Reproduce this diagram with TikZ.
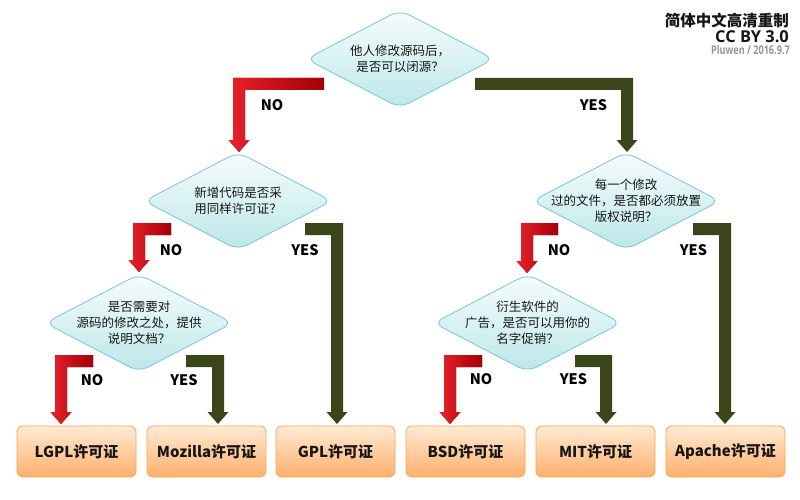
\documentclass[tikz,border=0pt]{standalone}
\usepackage{fontspec}
\usepackage{graphicx}
\setmainfont{Noto Sans CJK SC}
\newfontfamily\osans{Open Sans}
\usetikzlibrary{shapes.geometric}
\definecolor{redL}{RGB}{232,33,42}
\definecolor{redD}{RGB}{163,0,8}
\definecolor{yesgreen}{RGB}{59,69,26}
\definecolor{diaTop}{RGB}{247,252,252}
\definecolor{diaBot}{RGB}{188,231,233}
\definecolor{diaLine}{RGB}{120,196,222}
\definecolor{boxTop}{RGB}{255,234,212}
\definecolor{boxBot}{RGB}{255,176,108}
\definecolor{boxLine}{RGB}{248,166,84}
\definecolor{txt}{RGB}{22,22,22}
% bent arrow, horizontal part to the right of the shaft: style, x start, x shaft-left, y bar-top, y tip
\newcommand\bentarrowR[5]{%
  \fill[#1] (#2,#4) -- (#3,#4) -- (#3,#5-12) -- (#3-4.5,#5-12) -- (#3+6,#5)
    -- (#3+16.5,#5-12) -- (#3+12,#5-12) -- (#3+12,#4+12) -- (#2,#4+12) -- cycle;}
% bent arrow, horizontal part to the left of the shaft
\newcommand\bentarrowL[5]{%
  \fill[#1] (#2,#4) -- (#3+12,#4) -- (#3+12,#5-12) -- (#3+16.5,#5-12) -- (#3+6,#5)
    -- (#3-4.5,#5-12) -- (#3,#5-12) -- (#3,#4+12) -- (#2,#4+12) -- cycle;}
\begin{document}
\begin{tikzpicture}[x=1pt,y=-1pt,
  dia/.style={diamond, draw=diaLine, line width=0.8pt, rounded corners=10pt,
    minimum width=188pt, minimum height=98pt, inner sep=0pt,
    top color=diaTop, bottom color=diaBot},
  dtext/.style={align=center, font=\fontsize{12.5}{16}\selectfont, text=txt, inner sep=0pt},
  lic/.style={rectangle, draw=boxLine, line width=0.8pt, rounded corners=6pt,
    minimum width=119pt, minimum height=51pt, top color=boxTop, bottom color=boxBot,
    font=\bfseries\fontsize{15}{18}\selectfont, text=txt},
  yn/.style={font=\bfseries\fontsize{14.5}{16}\selectfont, text=black, inner sep=0pt},
  nofill/.style={left color=redL, right color=redD},
  yesfill/.style={fill=yesgreen}]
\useasboundingbox (0,0) rectangle (800,500);
\fill[white] (0,0) rectangle (800,500);

% title block
\node[anchor=east, inner sep=0pt, text=txt, font=\bfseries\fontsize{15.5}{16}\selectfont] (title) at (789,20.5) {简体中文高清重制};
\node[anchor=east, inner sep=0pt, text=txt, font=\osans\bfseries\fontsize{16.4}{17}\selectfont] (cc) at (789,36.5) {CC BY 3.0};
\node[anchor=east, inner sep=0pt, text={rgb,255:red,150;green,150;blue,150}] (author) at (790,50) {\scalebox{0.76}[1]{\osans\bfseries\fontsize{12}{13}\selectfont Pluwen / 2016.9.7}};

% decision diamonds
\node[dia] (q1) at (400,59) {};
\node[dtext] (q1t) at (q1.center) {他人修改源码后，\\是否可以闭源？};
\node[dia] (q2) at (238,201) {};
\node[dtext] (q2t) at (q2.center) {新增代码是否采\\用同样许可证？};
\node[dia] (q3) at (626,201) {};
\node[dtext] (q3t) at (q3.center) {每一个修改\\过的文件，是否都必须放置\\版权说明？};
\node[dia] (q4) at (139,323) {};
\node[dtext] (q4t) at (q4.center) {是否需要对\\源码的修改之处，提供\\说明文档？};
\node[dia] (q5) at (527.5,323) {};
\node[dtext] (q5t) at (q5.center) {衍生软件的\\广告，是否可以用你的\\名字促销？};

% licences
\node[lic] (lgpl) at (76.5,451.5) {LGPL许可证};
\node[lic] (mpl) at (206.5,451.5) {Mozilla许可证};
\node[lic] (gpl) at (335.5,451.5) {GPL许可证};
\node[lic] (bsd) at (465.5,451.5) {BSD许可证};
\node[lic] (mit) at (595.5,451.5) {MIT许可证};
\node[lic] (apache) at (725.5,451.5) {Apache许可证};

% connectors (bent block arrows)
\bentarrowR{nofill}{324}{233}{78}{152}   % q1 -> q2
\bentarrowL{yesfill}{475}{621}{78}{152}  % q1 -> q3
\bentarrowR{nofill}{171}{133}{223}{272}  % q2 -> q4
\bentarrowL{yesfill}{305}{331}{223}{424} % q2 -> gpl
\bentarrowR{nofill}{558}{521}{223}{273}  % q3 -> q5
\bentarrowL{yesfill}{693}{719}{223}{424} % q3 -> apache
\bentarrowR{nofill}{93}{55}{355}{424}    % q4 -> lgpl
\bentarrowL{yesfill}{186}{212}{355}{424} % q4 -> mpl
\bentarrowR{nofill}{482}{444}{355}{424}  % q5 -> bsd
\bentarrowL{yesfill}{575}{600}{355}{424} % q5 -> mit

% branch labels
\node[yn] (l1n) at (272,105) {NO};
\node[yn] (l1y) at (593.5,105) {YES};
\node[yn] (l2n) at (171,250) {NO};
\node[yn] (l2y) at (305,250) {YES};
\node[yn] (l3n) at (559,250) {NO};
\node[yn] (l3y) at (693.5,250) {YES};
\node[yn] (l4n) at (92,380) {NO};
\node[yn] (l4y) at (184,380) {YES};
\node[yn] (l5n) at (481,379) {NO};
\node[yn] (l5y) at (573.5,379) {YES};
\end{tikzpicture}
\end{document}
